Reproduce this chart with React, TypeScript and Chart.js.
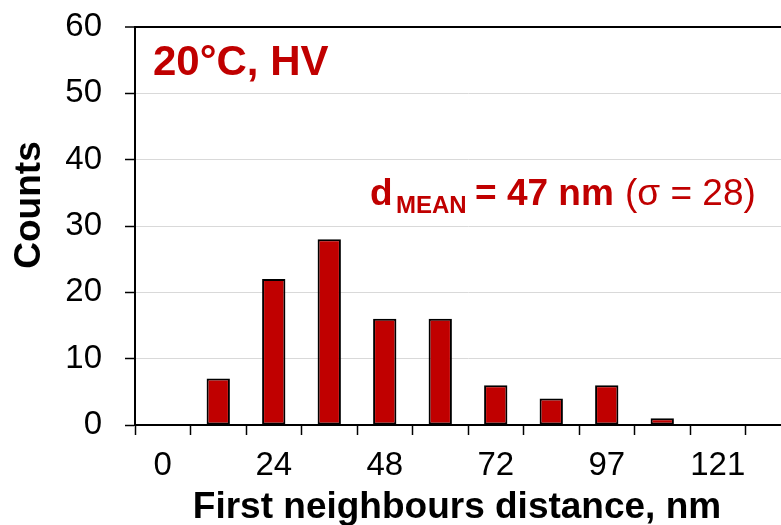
import React, { useEffect, useRef } from "react";
import { Chart, registerables } from "chart.js";

Chart.register(...registerables);

// ---- data ----
const binLabels = ["0", "12", "24", "36", "48", "60", "72", "85", "97", "109", "121", "133"];
const counts = [0, 7, 22, 28, 16, 16, 6, 4, 6, 1, 0, 0];
const yMin = 0;
const yMax = 60;
const yStep = 10;

const panelLabel = "20°C, HV";
const meanSymbol = "d";
const meanSub = "MEAN";
const meanValue = "= 47 nm";
const sigmaText = "(σ = 28)";
const xTitle = "First neighbours distance, nm";
const yTitle = "Counts";

// ---- style ----
const RED = "#C00000";
const FONT = "'Liberation Sans', Arial, Helvetica, sans-serif";

const annotPlugin = {
  id: "annotations",
  afterDraw(chart: any) {
    const ctx: CanvasRenderingContext2D = chart.ctx;
    const a = chart.chartArea;
    ctx.save();
    ctx.textAlign = "left";
    ctx.textBaseline = "alphabetic";

    // panel label
    ctx.fillStyle = RED;
    ctx.font = `bold 42px ${FONT}`;
    ctx.fillText(panelLabel, a.left + 18, 75);

    // mean annotation
    ctx.font = `bold 37px ${FONT}`;
    ctx.fillText(meanSymbol, 370, 205);
    ctx.font = `bold 24px ${FONT}`;
    ctx.fillText(meanSub, 396, 213);
    ctx.font = `bold 37px ${FONT}`;
    ctx.fillText(meanValue, 475, 205);
    ctx.font = `37px ${FONT}`;
    ctx.fillText(sigmaText, 625, 205);

    // axis titles
    ctx.fillStyle = "#000000";
    ctx.font = `bold 37px ${FONT}`;
    ctx.textAlign = "center";
    ctx.fillText(xTitle, 457, 518);

    ctx.save();
    ctx.translate(40, 205);
    ctx.rotate(-Math.PI / 2);
    ctx.fillText(yTitle, 0, 0);
    ctx.restore();

    ctx.restore();
  },
};

export default function App() {
  const canvasRef = useRef<HTMLCanvasElement | null>(null);

  useEffect(() => {
    const canvas = canvasRef.current;
    if (!canvas) return;
    const chart = new Chart(canvas, {
      type: "bar",
      data: {
        labels: binLabels,
        datasets: [
          {
            data: counts,
            backgroundColor: RED,
            borderColor: "#000000",
            borderWidth: 2,
            borderSkipped: false,
            categoryPercentage: 1,
            barPercentage: 0.42,
          },
        ],
      },
      options: {
        responsive: false,
        animation: false,
        devicePixelRatio: 1,
        layout: { padding: { top: 27, right: 0, bottom: 0, left: 0 } },
        plugins: {
          legend: { display: false },
          tooltip: { enabled: false },
          title: { display: false },
        },
        scales: {
          x: {
            type: "category",
            offset: true,
            afterFit: (s: any) => {
              s.height = 100;
              s.paddingLeft = 0;
              s.paddingRight = 0;
            },
            grid: {
              offset: true,
              drawOnChartArea: false,
              drawTicks: true,
              tickLength: 10,
              tickColor: "#000000",
              tickWidth: 1.5,
            },
            border: { display: true, color: "#000000", width: 2 },
            ticks: {
              autoSkip: false,
              maxRotation: 0,
              minRotation: 0,
              padding: 11,
              color: "#000000",
              font: { family: FONT, size: 33 },
              callback: (_v: any, i: number) => (i % 2 === 0 ? binLabels[i] : ""),
            },
          },
          y: {
            min: yMin,
            max: yMax,
            afterFit: (s: any) => {
              s.width = 135;
              s.paddingTop = 0;
              s.paddingBottom = 0;
            },
            grid: {
              color: (c: any) => (c.tick && c.tick.value === yMax ? "#000000" : "#d9d9d9"),
              lineWidth: (c: any) => (c.tick && c.tick.value === yMax ? 2 : 1),
              tickLength: 10,
              tickColor: "#000000",
              tickWidth: 1.5,
            },
            border: { display: true, color: "#000000", width: 2 },
            ticks: {
              stepSize: yStep,
              padding: 23,
              color: "#000000",
              font: { family: FONT, size: 33 },
            },
          },
        },
      },
      plugins: [annotPlugin],
    });
    return () => chart.destroy();
  }, []);

  return (
    <div
      style={{
        position: "absolute",
        left: 0,
        top: 0,
        width: 781,
        height: 525,
        overflow: "hidden",
        background: "#ffffff",
      }}
    >
      <canvas ref={canvasRef} width={801} height={525} style={{ display: "block" }} />
    </div>
  );
}
